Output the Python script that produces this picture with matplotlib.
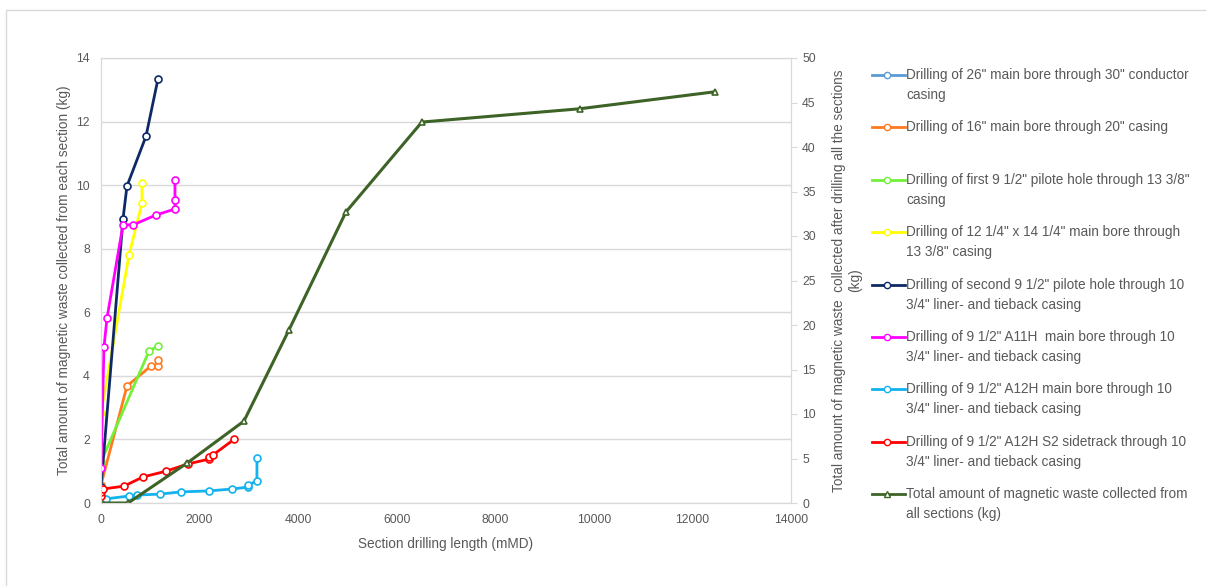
import matplotlib.pyplot as plt
from matplotlib.lines import Line2D
from matplotlib.patches import Rectangle

plt.rcParams['font.family'] = ['Liberation Sans', 'DejaVu Sans']

# section series (left axis, kg) -- x = section drilling length (mMD)
x_26 = [0, 40, 80]
y_26 = [0.02, 0.06, 0.10]
x_16 = [0, 527, 1014, 1156, 1156]
y_16 = [0.57, 3.68, 4.31, 4.31, 4.50]
x_pilot1 = [0, 974, 1156]
y_pilot1 = [1.29, 4.78, 4.94]
x_1214 = [0, 568, 832, 832]
y_1214 = [2.83, 7.80, 9.44, 10.07]
x_pilot2 = [0, 446, 527, 913, 1156]
y_pilot2 = [0.50, 8.93, 9.97, 11.54, 13.34]
x_a11h = [0, 60, 122, 446, 649, 1116, 1501, 1501, 1501]
y_a11h = [1.10, 4.90, 5.82, 8.75, 8.75, 9.06, 9.25, 9.53, 10.16]
x_a12h = [101, 568, 730, 1197, 1623, 2191, 2657, 2982, 2982, 3164, 3164]
y_a12h = [0.13, 0.22, 0.25, 0.28, 0.35, 0.38, 0.44, 0.50, 0.57, 0.69, 1.42]
x_s2 = [0, 0, 40, 466, 852, 1318, 1765, 2191, 2191, 2271, 2697]
y_s2 = [0.22, 0.35, 0.44, 0.53, 0.82, 1.00, 1.23, 1.38, 1.45, 1.51, 2.00]

# cumulative total (right axis, kg)
x_total = [0, 550, 1750, 2900, 3810, 4970, 6510, 9720, 12450]
y_total = [0, 0, 4.5, 9.2, 19.4, 32.7, 42.8, 44.3, 46.2]

labels = [
    'Drilling of 26" main bore through 30" conductor\ncasing',
    'Drilling of 16" main bore through 20" casing',
    'Drilling of first 9 1/2" pilote hole through 13 3/8"\ncasing',
    'Drilling of 12 1/4" x 14 1/4" main bore through\n13 3/8" casing',
    'Drilling of second 9 1/2" pilote hole through 10\n3/4" liner- and tieback casing',
    'Drilling of 9 1/2" A11H  main bore through 10\n3/4" liner- and tieback casing',
    'Drilling of 9 1/2" A12H main bore through 10\n3/4" liner- and tieback casing',
    'Drilling of 9 1/2" A12H S2 sidetrack through 10\n3/4" liner- and tieback casing',
    'Total amount of magnetic waste collected from\nall sections (kg)',
]
colors = ['#5B9BD5', '#FF7A1F', '#72F03A', '#FFFF00', '#0D2A66',
          '#FF00FF', '#12B2EE', '#FF0000', '#3D6327']

series = [(x_26, y_26), (x_16, y_16), (x_pilot1, y_pilot1), (x_1214, y_1214),
          (x_pilot2, y_pilot2), (x_a11h, y_a11h), (x_a12h, y_a12h), (x_s2, y_s2)]

W, H = 1206, 586
fig = plt.figure(figsize=(W / 100, H / 100), dpi=100)
ax = fig.add_axes([101 / W, 1 - 503 / H, (791 - 101) / W, (503 - 58) / H])
ax2 = ax.twinx()

grey = '#595959'
for (xs, ys), c in zip(series, colors[:8]):
    ax.plot(xs, ys, color=c, lw=2, marker='o', ms=5, mfc='white', mec=c, mew=1.2)
ax2.plot(x_total, y_total, color=colors[8], lw=2.2, marker='^', ms=5,
         mfc='white', mec=colors[8], mew=1.2)

ax.set_xlim(0, 14000)
ax.set_ylim(0, 14)
ax2.set_ylim(0, 50)
ax.set_xticks(range(0, 14001, 2000))
ax.set_yticks(range(0, 15, 2))
ax2.set_yticks(range(0, 51, 5))
ax.grid(axis='y', color='#D9D9D9', lw=1)
ax.set_axisbelow(True)
for a in (ax, ax2):
    for s in a.spines.values():
        s.set_color('#D9D9D9')
ax.tick_params(axis='both', length=0, labelsize=8.8, labelcolor=grey, pad=8)
ax2.tick_params(axis='y', length=4, color='#D9D9D9', labelsize=8.8, labelcolor=grey, pad=4)

fs = 9.8
ax.set_xlabel('Section drilling length (mMD)', fontsize=fs, color=grey, labelpad=8)
ax.set_ylabel('Total amount of magnetic waste collected from each section (kg)',
              fontsize=fs, color=grey, labelpad=4)
ax2.set_ylabel('Total amount of magnetic waste  collected after drilling all the sections\n(kg)',
               fontsize=fs, color=grey, labelpad=12, multialignment='center')

# legend drawn entry by entry
for i, (lab, c) in enumerate(zip(labels, colors)):
    yp = 75 + i * 52.4
    yf = 1 - yp / H
    mk = '^' if i == 8 else 'o'
    fig.add_artist(Line2D([872 / W, 887 / W, 905 / W], [yf, yf, yf], color=c, lw=2,
                          marker=mk, markevery=[1], ms=4.5, mfc='white', mec=c, mew=1))
    for j, line in enumerate(lab.split('\n')):
        fig.text(906 / W, 1 - (yp + j * 20) / H, line, fontsize=fs, color=grey, va='center')

# chart area border
fig.add_artist(Rectangle((6 / W, -0.1), 1.2, 1 - 10 / H + 0.1, transform=fig.transFigure,
                         fill=False, ec='#D9D9D9', lw=1))

fig.savefig('out.png', dpi=100)
